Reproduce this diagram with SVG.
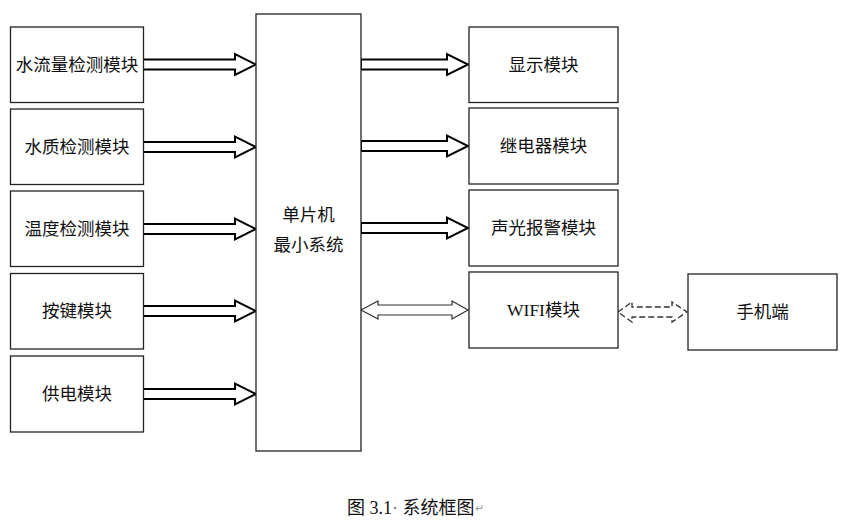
<svg xmlns="http://www.w3.org/2000/svg" xmlns:xlink="http://www.w3.org/1999/xlink" width="850" height="528" viewBox="0 0 850 528">
<style>
.box{fill:#fff;stroke:#222;stroke-width:1.3}
.t{font-family:"Liberation Serif","Noto Sans CJK SC",serif;font-size:17.5px;fill:#111;text-anchor:middle;dominant-baseline:central}
.arr{fill:#fff;stroke:#000;stroke-width:2;stroke-linejoin:miter}
.dbl{fill:#fff;stroke:#333;stroke-width:1.2}
.dash{fill:none;stroke:#333;stroke-width:1.3;stroke-dasharray:6 3}
</style>
<defs>
<path id="la" d="M0,-5 H92 V-10.5 L113,0 L92,10.5 V5 H0 Z"/>
<path id="ra" d="M0,-5 H86 V-10.5 L107,0 L86,10.5 V5 H0 Z"/>
</defs>
<rect width="850" height="528" fill="#fff"/>
<g id="connectors">
<use xlink:href="#la" class="arr" x="143" y="64.5"/>
<use xlink:href="#la" class="arr" x="143" y="147"/>
<use xlink:href="#la" class="arr" x="143" y="229"/>
<use xlink:href="#la" class="arr" x="143" y="311"/>
<use xlink:href="#la" class="arr" x="143" y="394"/>
<use xlink:href="#ra" class="arr" x="361" y="64.5"/>
<use xlink:href="#ra" class="arr" x="361" y="146"/>
<use xlink:href="#ra" class="arr" x="361" y="228"/>
<path class="dbl" d="M361,310 L378,301 V305 H452 V301 L468,310 L452,319 V315 H378 V319 Z"/>
<path class="dash" d="M618,312 L632,302 V307 H672 V302 L687,312 L672,322 V317 H632 V322 Z"/>
</g>
<g id="n1"><rect class="box" x="10.5" y="27" width="133" height="75.5"/><text class="t" x="77" y="65">水流量检测模块</text></g>
<g id="n2"><rect class="box" x="10.5" y="109" width="133" height="75.5"/><text class="t" x="77" y="147">水质检测模块</text></g>
<g id="n3"><rect class="box" x="10.5" y="191" width="133" height="75.5"/><text class="t" x="77" y="229">温度检测模块</text></g>
<g id="n4"><rect class="box" x="10.5" y="273.5" width="133" height="75.5"/><text class="t" x="77" y="311">按键模块</text></g>
<g id="n5"><rect class="box" x="10.5" y="356" width="133" height="76"/><text class="t" x="77" y="394">供电模块</text></g>
<g id="mcu"><rect class="box" x="256" y="14" width="105" height="437"/><text class="t" x="308.5" y="215">单片机</text><text class="t" x="308.5" y="245">最小系统</text></g>
<g id="r1"><rect class="box" x="469" y="27" width="149" height="75.5"/><text class="t" x="543.5" y="65">显示模块</text></g>
<g id="r2"><rect class="box" x="469" y="108" width="149" height="76"/><text class="t" x="543.5" y="146">继电器模块</text></g>
<g id="r3"><rect class="box" x="469" y="190" width="149" height="76"/><text class="t" x="543.5" y="228">声光报警模块</text></g>
<g id="r4"><rect class="box" x="469" y="272" width="149" height="76"/><text class="t" x="543.5" y="310">WIFI模块</text></g>
<g id="phone"><rect class="box" x="688" y="274" width="149" height="76"/><text class="t" x="762.5" y="312">手机端</text></g>
<g id="caption"><text x="347" y="508" style="font-family:'Liberation Serif','Noto Sans CJK SC',serif;font-size:18px;fill:#111;dominant-baseline:central">图 3.1<tspan fill="#777">·</tspan> 系统框图<tspan font-size="11" fill="#999">↵</tspan></text></g>
</svg>
